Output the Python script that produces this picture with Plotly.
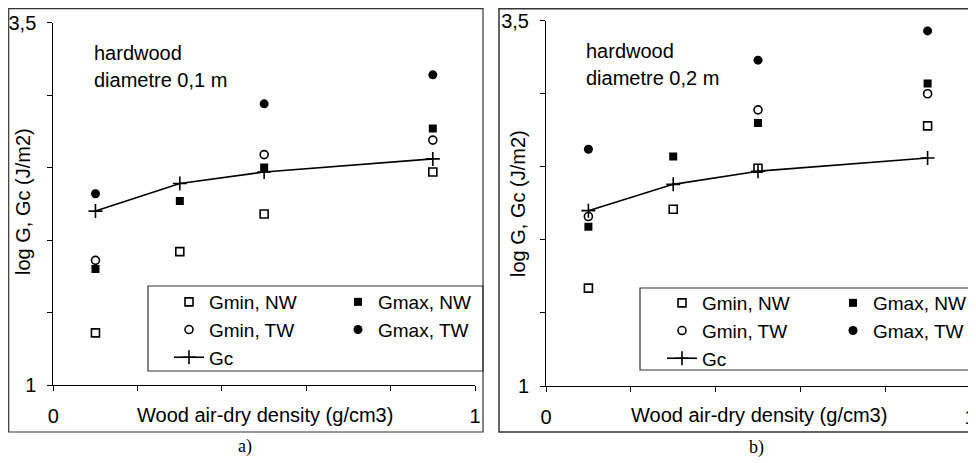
import plotly.graph_objects as go

# The page has an 8px body margin, so the figure is drawn 8px in from the top-left.
OFF = 8
W, H = 968, 455

# ---------------- data ----------------
density = [0.1, 0.3, 0.5, 0.9]

gmin_nw_a = [1.36, 1.92, 2.18, 2.47]
gmax_nw_a = [1.80, 2.27, 2.50, 2.77]
gmin_tw_a = [1.86, None, 2.59, 2.69]
gmax_tw_a = [2.32, None, 2.94, 3.14]
gc_a = [2.20, 2.39, 2.47, 2.56]

gmin_nw_b = [1.67, 2.21, 2.49, 2.78]
gmax_nw_b = [2.09, 2.57, 2.80, 3.07]
gmin_tw_b = [2.16, None, 2.89, 3.00]
gmax_tw_b = [2.62, None, 3.23, 3.43]
gc_b = [2.20, 2.38, 2.47, 2.56]

x_tickvals = [0, 0.2, 0.4, 0.6, 0.8, 1.0]
x_ticktext = ["0", "", "", "", "", "1"]
y_tickvals = [1.0, 1.5, 2.0, 2.5, 3.0, 3.5]
y_ticktext = ["1", "", "", "", "", "3,5"]

series_names = ["Gmin, NW", "Gmax, NW", "Gmin, TW", "Gmax, TW", "Gc"]

# ---------------- helpers (page pixel -> paper fraction) ----------------
def px(x):
    return (x - OFF) / W

def py(y):
    return 1 - (y - OFF) / H

FONT = "Liberation Sans, Arial, sans-serif"
BLACK = "black"

fig = go.Figure()

def add_panel(xa, ya, data, leg_col1, leg_col2):
    gmin_nw, gmax_nw, gmin_tw, gmax_tw, gc = data
    common = dict(xaxis=xa, yaxis=ya)
    fig.add_trace(go.Scatter(x=density, y=gmin_nw, mode="markers", name=series_names[0],
                             marker=dict(symbol="square-open", size=8, color=BLACK, line=dict(width=1.6, color=BLACK)),
                             legend=leg_col1, **common))
    fig.add_trace(go.Scatter(x=density, y=gmax_nw, mode="markers", name=series_names[1],
                             marker=dict(symbol="square", size=8, color=BLACK),
                             legend=leg_col2, **common))
    fig.add_trace(go.Scatter(x=density, y=gmin_tw, mode="markers", name=series_names[2],
                             marker=dict(symbol="circle-open", size=8, color=BLACK, line=dict(width=1.6, color=BLACK)),
                             legend=leg_col1, **common))
    fig.add_trace(go.Scatter(x=density, y=gmax_tw, mode="markers", name=series_names[3],
                             marker=dict(symbol="circle", size=9, color=BLACK),
                             legend=leg_col2, **common))
    fig.add_trace(go.Scatter(x=density, y=gc, mode="lines+markers", name=series_names[4],
                             line=dict(color=BLACK, width=1.6),
                             marker=dict(symbol="cross-thin", size=10, color=BLACK, line=dict(width=1.6, color=BLACK)),
                             legend=leg_col1, **common))

add_panel("x", "y", (gmin_nw_a, gmax_nw_a, gmin_tw_a, gmax_tw_a, gc_a), "legend", "legend2")
add_panel("x2", "y2", (gmin_nw_b, gmax_nw_b, gmin_tw_b, gmax_tw_b, gc_b), "legend3", "legend4")

axis_common = dict(showline=True, linecolor=BLACK, linewidth=1, ticks="outside", ticklen=5,
                   tickcolor=BLACK, showgrid=False, zeroline=False, mirror=False, automargin=False,
                   tickfont=dict(family=FONT, size=20, color=BLACK))

xaxis_cfg = dict(range=[0, 1], tickvals=x_tickvals, ticktext=x_ticktext, ticklabelstandoff=8, **axis_common)
yaxis_cfg = dict(range=[1, 3.5], tickvals=y_tickvals, ticktext=y_ticktext, ticklabelstandoff=7, **axis_common)

leg_font = dict(family=FONT, size=19, color=BLACK)

def legend_cfg(x_px, y_px):
    return dict(x=px(x_px), y=py(y_px), xanchor="left", yanchor="top", bgcolor="rgba(0,0,0,0)",
                borderwidth=0, font=leg_font, itemwidth=30, orientation="v")

fig.update_layout(
    template="none",
    width=W, height=H,
    margin=dict(l=0, r=0, t=0, b=0, autoexpand=False),
    paper_bgcolor="white", plot_bgcolor="white",
    font=dict(family=FONT, size=20, color=BLACK),
    showlegend=True,
    xaxis=dict(domain=[px(53.3), px(475)], anchor="y", **xaxis_cfg),
    yaxis=dict(domain=[py(385), py(22.7)], anchor="x", **yaxis_cfg),
    xaxis2=dict(domain=[px(546), px(970)], anchor="y2", **xaxis_cfg),
    yaxis2=dict(domain=[py(386), py(20.7)], anchor="x2", **yaxis_cfg),
    legend=legend_cfg(169, 283),
    legend2=legend_cfg(338, 283),
    legend3=legend_cfg(662, 284),
    legend4=legend_cfg(833, 284),
)

# frames and legend boxes (kept just inside the drawable page area)
shapes = [
    dict(type="rect", xref="paper", yref="paper", x0=px(8.7), x1=px(483), y0=py(432), y1=py(8.7),
         line=dict(color="#333333", width=1.2)),
    dict(type="rect", xref="paper", yref="paper", x0=px(499), x1=px(995), y0=py(432), y1=py(8.7),
         line=dict(color="#333333", width=1.5)),
    dict(type="rect", xref="paper", yref="paper", x0=px(148), x1=px(483), y0=py(371), y1=py(286),
         line=dict(color="#333333", width=1.2)),
    dict(type="rect", xref="paper", yref="paper", x0=px(640), x1=px(995), y0=py(370), y1=py(288),
         line=dict(color="#333333", width=1.2)),
]
fig.update_layout(shapes=shapes)

txt = dict(family=FONT, size=20, color=BLACK)
annotations = [
    dict(text="hardwood", x=px(92), y=py(53), xanchor="left", yanchor="middle"),
    dict(text="diametre 0,1 m", x=px(92), y=py(80), xanchor="left", yanchor="middle"),
    dict(text="hardwood", x=px(584), y=py(51), xanchor="left", yanchor="middle"),
    dict(text="diametre 0,2 m", x=px(584), y=py(78), xanchor="left", yanchor="middle"),
    dict(text="log G, Gc (J/m2)", x=px(23), y=py(202), xanchor="center", yanchor="middle", textangle=-90),
    dict(text="log G, Gc (J/m2)", x=px(518), y=py(203), xanchor="center", yanchor="middle", textangle=-90),
    dict(text="Wood air-dry density (g/cm3)", x=px(265), y=py(415), xanchor="center", yanchor="middle"),
    dict(text="Wood air-dry density (g/cm3)", x=px(759), y=py(415), xanchor="center", yanchor="middle"),
]
for a in annotations:
    a.update(xref="paper", yref="paper", showarrow=False, font=txt)

serif = dict(family="Liberation Serif, Times New Roman, serif", size=18, color=BLACK)
annotations += [
    dict(text="a)", x=px(245), y=py(446), xref="paper", yref="paper", showarrow=False,
         xanchor="center", yanchor="middle", font=serif),
    dict(text="b)", x=px(756), y=py(447), xref="paper", yref="paper", showarrow=False,
         xanchor="center", yanchor="middle", font=serif),
]
fig.update_layout(annotations=annotations)

fig.write_html("out.html")
